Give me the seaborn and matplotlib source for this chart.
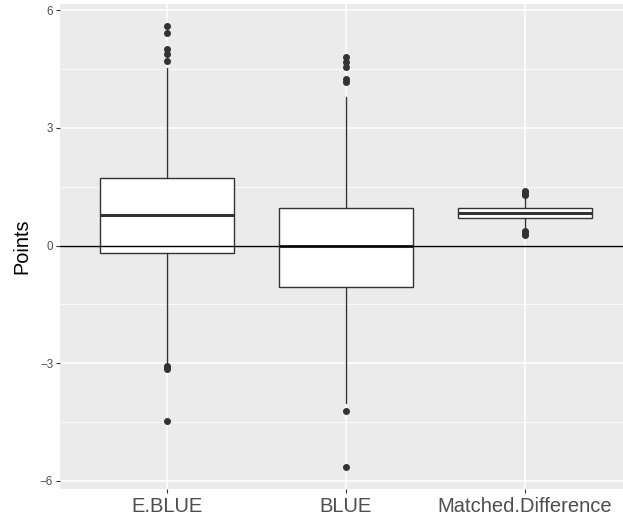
import matplotlib
matplotlib.use("Agg")
import matplotlib.pyplot as plt
import seaborn as sns

# summary statistics
groups = ["E.BLUE", "BLUE", "Matched.Difference"]
whisker_low = [-2.98, -4.03, 0.42]
q1 = [-0.18, -1.06, 0.71]
median = [0.77, -0.02, 0.82]
q3 = [1.72, 0.96, 0.95]
whisker_high = [4.52, 3.79, 1.27]
outliers = [
    [5.59, 5.42, 5.02, 4.90, 4.71, -3.08, -3.12, -3.16, -4.47],
    [4.80, 4.68, 4.56, 4.26, 4.17, -4.21, -5.66],
    [1.40, 1.36, 1.32, 1.30, 0.38, 0.34, 0.30, 0.26],
]

sns.set_theme(style="darkgrid")
plt.rcParams["font.family"] = ["Liberation Sans", "DejaVu Sans"]

fig = plt.figure(figsize=(6.23, 5.16), dpi=100)
ax = fig.add_axes([0.0963, 0.0517, 0.9037, 0.9403])
ax.set_facecolor("#EBEBEB")

stats = []
for i, g in enumerate(groups):
    stats.append({
        "label": g, "whislo": whisker_low[i], "q1": q1[i], "med": median[i],
        "q3": q3[i], "whishi": whisker_high[i], "fliers": outliers[i],
    })

line = dict(color="#333333", linewidth=1.0)
ax.bxp(stats, positions=range(len(groups)), widths=0.75, patch_artist=True,
       showcaps=False,
       boxprops=dict(facecolor="white", edgecolor="#333333", linewidth=1.0),
       whiskerprops=line,
       medianprops=dict(color="#333333", linewidth=2.2),
       flierprops=dict(marker="o", markerfacecolor="#333333", markeredgecolor="#333333",
                       markersize=4.0, linestyle="none"))

ax.axhline(0, color="black", linewidth=1.0, zorder=3)

ax.set_xlim(-0.596, 2.549)
ax.set_ylim(-6.22, 6.16)
ax.set_yticks([-6, -3, 0, 3, 6])
ax.set_yticklabels(["\u22126", "\u22123", "0", "3", "6"])
ax.set_yticks([-4.5, -1.5, 1.5, 4.5], minor=True)
ax.set_xticks(range(len(groups)))
ax.set_xticklabels(groups)

ax.grid(which="major", color="white", linewidth=1.1)
ax.grid(which="minor", axis="y", color="white", linewidth=0.55)
ax.set_axisbelow(True)
for s in ax.spines.values():
    s.set_visible(False)

ax.tick_params(axis="y", which="major", labelsize=8.4, labelcolor="#4D4D4D",
               color="#333333", length=3, width=0.8, left=True, pad=2)
ax.tick_params(axis="x", which="major", labelsize=14.5, labelcolor="#4D4D4D",
               color="#333333", length=3, width=0.8, bottom=True, pad=2.5)
ax.tick_params(which="minor", length=0)

ax.set_xlabel("")
ax.set_ylabel("Points", fontsize=14.3, color="black", labelpad=6)

fig.savefig("out.png", dpi=100)
